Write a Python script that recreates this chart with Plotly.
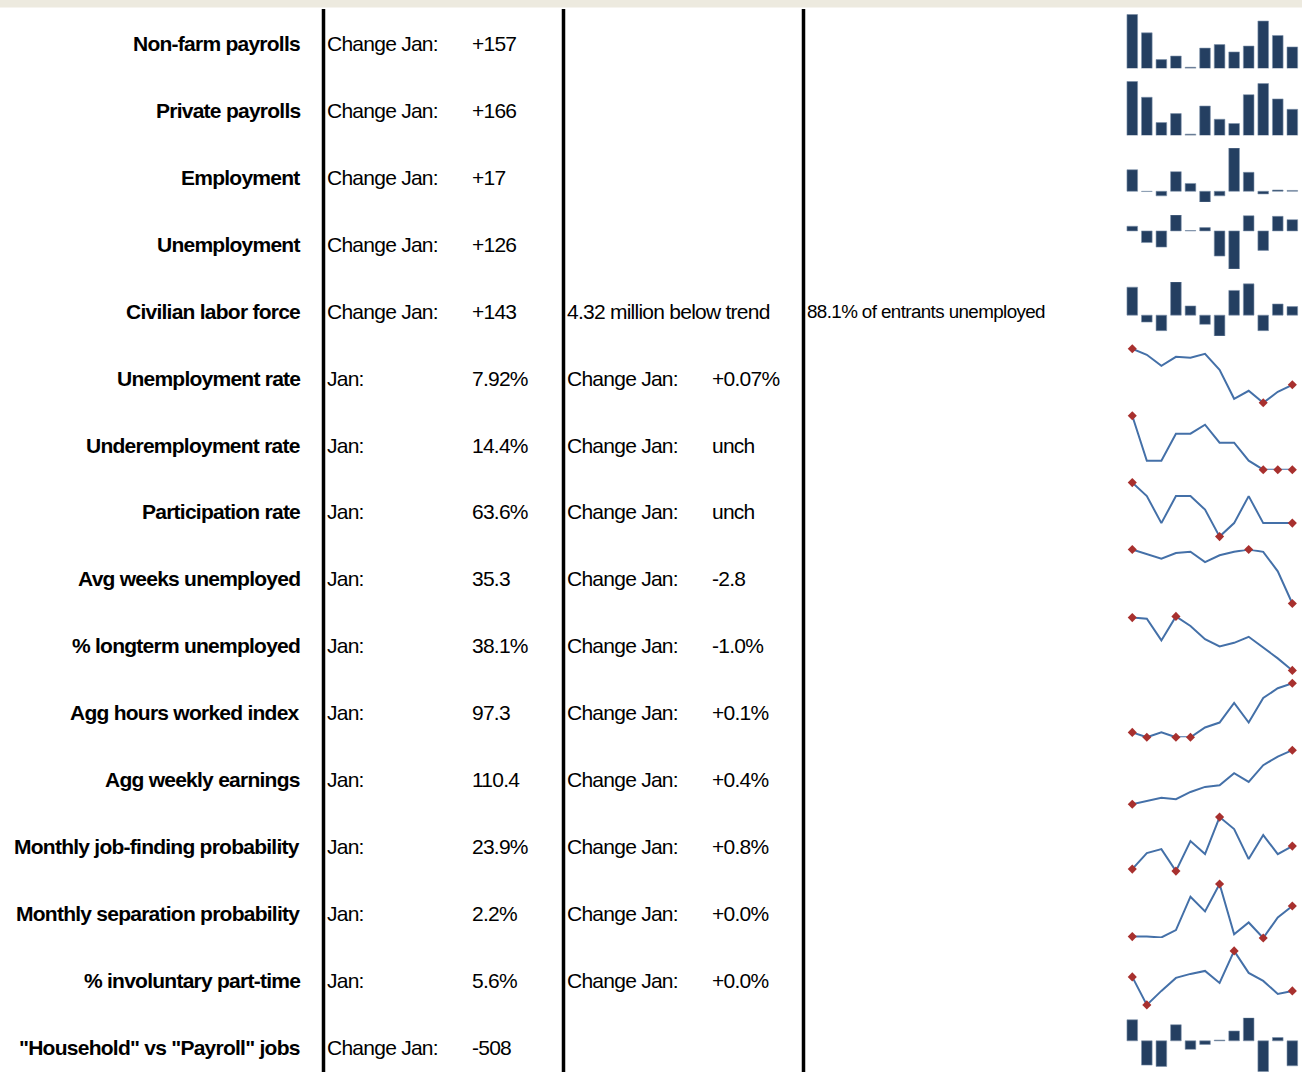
import plotly.graph_objects as go

# ---------------- data ----------------
row_labels = ["Non-farm payrolls", "Private payrolls", "Employment", "Unemployment",
              "Civilian labor force", "Unemployment rate", "Underemployment rate",
              "Participation rate", "Avg weeks unemployed", "% longterm unemployed",
              "Agg hours worked index", "Agg weekly earnings",
              "Monthly job-finding probability", "Monthly separation probability",
              "% involuntary part-time", '"Household" vs "Payroll" jobs']

col_b_labels = ["Change Jan:"] * 5 + ["Jan:"] * 10 + ["Change Jan:"]
col_b_values = ["+157", "+166", "+17", "+126", "+143", "7.92%", "14.4%", "63.6%",
                "35.3", "38.1%", "97.3", "110.4", "23.9%", "2.2%", "5.6%", "-508"]
col_c_labels = ["", "", "", "", "4.32 million below trend"] + ["Change Jan:"] * 10 + [""]
col_c_values = ["", "", "", "", "", "+0.07%", "unch", "unch", "-2.8", "-1.0%", "+0.1%",
                "+0.4%", "+0.8%", "+0.0%", "+0.0%", ""]
col_d_texts = ["", "", "", "", "88.1% of entrants unemployed"] + [""] * 11

months = ["Feb", "Mar", "Apr", "May", "Jun", "Jul", "Aug", "Sep", "Oct", "Nov", "Dec", "Jan"]

nonfarm_payrolls = [268, 205, 114, 126, 88, 153, 165, 140, 160, 245, 196, 157]
private_payrolls = [285, 217, 110, 148, 61, 180, 124, 106, 228, 275, 210, 166]
employment = [435, -5, -92, 396, 158, -218, -92, 871, 383, -53, 26, 17]
unemployment = [52, -130, -181, 178, 4, 37, -281, -426, 170, -218, 163, 126]
labor_force = [468, -116, -259, 556, 154, -154, -347, 413, 523, -259, 187, 143]
unemployment_rate = [8.28, 8.22, 8.11, 8.20, 8.19, 8.23, 8.07, 7.78, 7.86, 7.74, 7.85, 7.92]
underemployment_rate = [15.0, 14.5, 14.5, 14.8, 14.8, 14.9, 14.7, 14.7, 14.5, 14.4, 14.4, 14.4]
participation_rate = [63.9, 63.8, 63.6, 63.8, 63.8, 63.7, 63.5, 63.6, 63.8, 63.6, 63.6, 63.6]
avg_weeks_unemployed = [40.0, 39.6, 39.2, 39.7, 39.8, 38.9, 39.5, 39.8, 40.0, 39.8, 38.1, 35.3]
longterm_unemployed = [42.5, 42.4, 40.6, 42.6, 41.8, 40.7, 40.1, 40.4, 40.9, 40.0, 39.1, 38.1]
agg_hours_index = [96.3, 96.2, 96.3, 96.2, 96.2, 96.4, 96.5, 96.9, 96.5, 97.0, 97.2, 97.3]
agg_weekly_earnings = [106.65, 106.9, 107.1, 107.0, 107.5, 107.85, 107.96, 108.8, 108.2,
                       109.36, 109.96, 110.4]
job_finding_prob = [21.6, 23.2, 23.6, 21.4, 24.4, 23.1, 26.8, 25.6, 22.6, 25.0, 23.1, 23.9]
separation_prob = [2.112, 2.112, 2.109, 2.135, 2.253, 2.201, 2.298, 2.120, 2.162, 2.107,
                   2.180, 2.220]
involuntary_part_time = [5.74, 5.46, 5.60, 5.73, 5.77, 5.80, 5.68, 6.00, 5.78, 5.70, 5.57, 5.60]
household_vs_payroll = [428, -494, -521, 327, -174, -73, 15, 200, 468, -630, 67, -508]

spark_series = [
    ("bar", nonfarm_payrolls), ("bar", private_payrolls), ("bar", employment),
    ("bar", unemployment), ("bar", labor_force),
    ("line", unemployment_rate), ("line", underemployment_rate), ("line", participation_rate),
    ("line", avg_weeks_unemployed), ("line", longterm_unemployed), ("line", agg_hours_index),
    ("line", agg_weekly_earnings), ("line", job_finding_prob), ("line", separation_prob),
    ("line", involuntary_part_time), ("bar", household_vs_payroll),
]

# ---------------- layout constants ----------------
W, H = 1302, 1072
ROW0, ROW_STEP = 43.6, 66.9
SPARK_TOP0, SPARK_H = 14.3, 54.0
SPARK_X0, SPARK_X1 = 1125.0, 1299.6
FONT = "Liberation Sans, Arial, sans-serif"
FS = 21
FS_SMALL = 18.8
LS = -0.75
LS_SMALL = -0.6
BAR_COLOR = "#243F61"
LINE_COLOR = "#4470A8"
MARK_COLOR = "#A8302E"


def px_x(x):
    return x / W


def px_y(y):
    return 1 - y / H


def narrow(txt, ls):
    return f'<span style="letter-spacing:{ls}px">{txt}</span>'


fig = go.Figure()
layout = dict(width=W, height=H, margin=dict(l=0, r=0, t=0, b=0),
              paper_bgcolor="white", plot_bgcolor="rgba(0,0,0,0)", showlegend=False)

xs = list(range(12))
for i, (kind, vals) in enumerate(spark_series):
    n = i + 1
    xa = "x" if n == 1 else f"x{n}"
    ya = "y" if n == 1 else f"y{n}"
    top = SPARK_TOP0 + ROW_STEP * i
    bot = top + SPARK_H
    vmin, vmax = min(vals), max(vals)
    if kind == "bar":
        if vmin >= 0:
            rng = [vmin - 0.02 * (vmax - vmin), vmax]
        else:
            rng = [vmin, vmax]
        fig.add_trace(go.Bar(x=xs, y=vals, xaxis=xa, yaxis=ya, width=0.73,
                             marker=dict(color=BAR_COLOR, line=dict(width=0.6, color="#7F93AC")),
                             hovertext=months))
    else:
        rng = [vmin, vmax]
        fig.add_trace(go.Scatter(x=xs, y=vals, xaxis=xa, yaxis=ya, mode="lines",
                                 line=dict(color=LINE_COLOR, width=2), cliponaxis=False,
                                 hovertext=months))
        mk = [j for j, v in enumerate(vals) if j == 0 or j == 11 or v == vmax or v == vmin]
        fig.add_trace(go.Scatter(x=mk, y=[vals[j] for j in mk], xaxis=xa, yaxis=ya,
                                 mode="markers", cliponaxis=False,
                                 marker=dict(symbol="diamond", size=7, color=MARK_COLOR)))
    xkey = "xaxis" if n == 1 else f"xaxis{n}"
    ykey = "yaxis" if n == 1 else f"yaxis{n}"
    layout[xkey] = dict(domain=[px_x(SPARK_X0), px_x(SPARK_X1)], range=[-0.5, 11.5],
                        visible=False, anchor=ya, fixedrange=True)
    layout[ykey] = dict(domain=[max(0, px_y(bot)), px_y(top)], range=rng,
                        visible=False, anchor=xa, fixedrange=True)

annotations = []
for i in range(len(row_labels)):
    yc = px_y(ROW0 + ROW_STEP * i)
    annotations.append(dict(x=px_x(301.5), y=yc, xref="paper", yref="paper",
                            text=narrow(f"<b>{row_labels[i]}</b>", LS), showarrow=False,
                            xanchor="right", yanchor="middle",
                            font=dict(family=FONT, size=FS, color="black")))
    for xpos, txt, fs, ls in [(325, col_b_labels[i], FS, LS), (470, col_b_values[i], FS, LS),
                              (565, col_c_labels[i], FS, LS), (710, col_c_values[i], FS, LS),
                              (805, col_d_texts[i], FS_SMALL, LS_SMALL)]:
        if txt:
            annotations.append(dict(x=px_x(xpos), y=yc, xref="paper", yref="paper",
                                    text=narrow(txt, ls), showarrow=False, xanchor="left",
                                    yanchor="middle",
                                    font=dict(family=FONT, size=fs, color="black")))
layout["annotations"] = annotations

shapes = [dict(type="rect", xref="paper", yref="paper", x0=0, x1=1, y0=px_y(7.5), y1=1,
               fillcolor="#EDEADF", line=dict(width=0), layer="below")]
for xv in [323.5, 563.5, 803.5]:
    shapes.append(dict(type="line", xref="paper", yref="paper", x0=px_x(xv), x1=px_x(xv),
                       y0=0, y1=px_y(9), line=dict(color="black", width=3.5)))
layout["shapes"] = shapes

fig.update_layout(**layout)
fig.write_html("out.html", config={"displayModeBar": False},
               post_script="document.body.style.margin='0';"
                           "document.body.style.overflow='hidden';")
